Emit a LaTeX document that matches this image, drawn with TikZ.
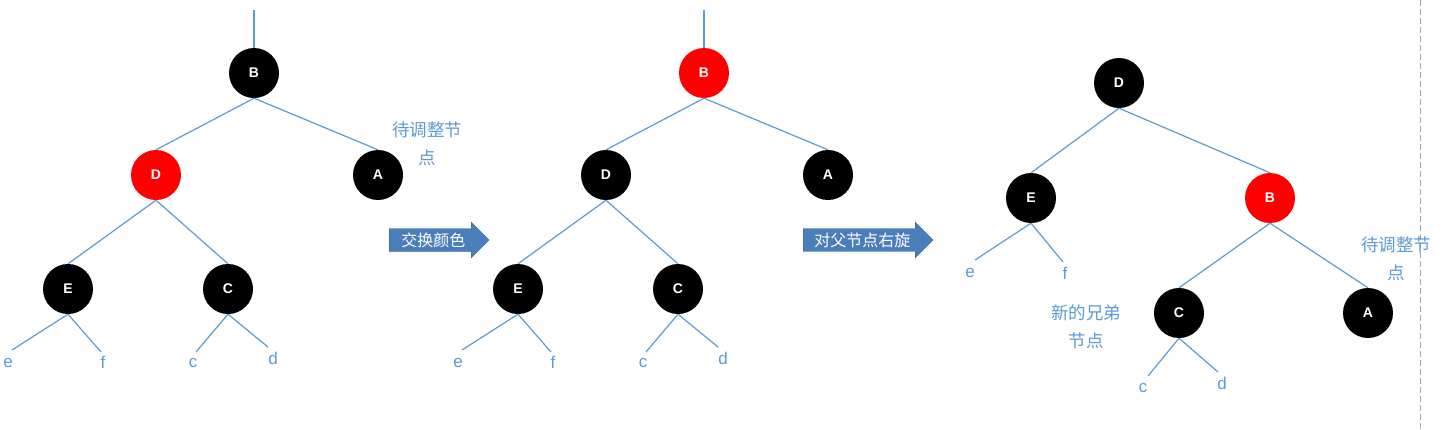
\documentclass[tikz,border=0pt]{standalone}
\usepackage{fontspec}
\setmainfont{Liberation Sans}
\newfontfamily\cjk{Noto Sans CJK SC}
\usetikzlibrary{shapes.arrows}
\definecolor{lineblue}{HTML}{5B9BD5}
\definecolor{arrowblue}{HTML}{4A7EBB}
\tikzset{
  rb/.style={circle,minimum size=50pt,inner sep=0pt,font=\bfseries\fontsize{14}{14}\selectfont,text=white},
  blk/.style={rb,fill=black},
  red/.style={rb,fill=red},
  edge/.style={draw=lineblue,line width=1.2pt},
  leaf/.style={text=lineblue,font=\fontsize{17}{17}\selectfont,inner sep=0pt},
  note/.style={text=lineblue,font=\cjk\fontsize{17.5}{28}\selectfont,align=center,inner sep=0pt},
  bigarrow/.style={single arrow,fill=arrowblue,draw=arrowblue!80!black,line width=0.3pt,text=white,font=\cjk\fontsize{16}{16}\selectfont,single arrow head extend=6pt,single arrow tip angle=90,minimum height=#1,inner sep=3pt,minimum width=36pt}
}
\begin{document}
\begin{tikzpicture}[x=1pt,y=-1pt]
\useasboundingbox (0,0) rectangle (1445,429);
\draw[gray!70,dash pattern=on 6pt off 3pt,line width=1pt] (1420,0) -- (1420,429);
% Tree 1
\coordinate (t1) at (254,10);
\node[blk] (B1) at (254,73) {B};
\node[red] (D1) at (156,175) {D};
\node[blk] (A1) at (378,175) {A};
\node[blk] (E1) at (68,289) {E};
\node[blk] (C1) at (228,289) {C};
\coordinate (e1c) at (12,350);
\coordinate (f1c) at (101,352);
\coordinate (c1c) at (196,352);
\coordinate (d1c) at (268,347);
\node[leaf] (e1) at (8,363) {e};
\node[leaf] (f1) at (103,362) {f};
\node[leaf] (c1) at (193,363) {c};
\node[leaf] (d1) at (273,358) {d};
\draw[edge] (t1) -- (B1.north);
\draw[edge] (B1.south) -- (D1.north);
\draw[edge] (B1.south) -- (A1.north);
\draw[edge] (D1.south) -- (E1.north);
\draw[edge] (D1.south) -- (C1.north);
\draw[edge] (E1.south) -- (e1c);
\draw[edge] (E1.south) -- (f1c);
\draw[edge] (C1.south) -- (c1c);
\draw[edge] (C1.south) -- (d1c);
\node[note] (n1) at (427,144) {待调整节\\点};
% Arrow 1
\node[bigarrow=100pt,anchor=west] (ar1) at (389,240) {交换颜色\hspace{12pt}};
% Tree 2
\coordinate (t2) at (704,10);
\node[red] (B2) at (704,73) {B};
\node[blk] (D2) at (606,175) {D};
\node[blk] (A2) at (828,175) {A};
\node[blk] (E2) at (518,289) {E};
\node[blk] (C2) at (678,289) {C};
\coordinate (e2c) at (462,350);
\coordinate (f2c) at (551,352);
\coordinate (c2c) at (646,352);
\coordinate (d2c) at (718,347);
\node[leaf] (e2) at (458,363) {e};
\node[leaf] (f2) at (553,362) {f};
\node[leaf] (c2) at (643,363) {c};
\node[leaf] (d2) at (723,358) {d};
\draw[edge] (t2) -- (B2.north);
\draw[edge] (B2.south) -- (D2.north);
\draw[edge] (B2.south) -- (A2.north);
\draw[edge] (D2.south) -- (E2.north);
\draw[edge] (D2.south) -- (C2.north);
\draw[edge] (E2.south) -- (e2c);
\draw[edge] (E2.south) -- (f2c);
\draw[edge] (C2.south) -- (c2c);
\draw[edge] (C2.south) -- (d2c);
% Arrow 2
\node[bigarrow=130pt,anchor=west] (ar2) at (803,240) {对父节点右旋\hspace{10pt}};
% Tree 3
\node[blk] (D3) at (1119,83) {D};
\node[blk] (E3) at (1031,198) {E};
\node[red] (B3) at (1270,198) {B};
\node[blk] (C3) at (1179,313) {C};
\node[blk] (A3) at (1368,313) {A};
\coordinate (e3c) at (975,260);
\coordinate (f3c) at (1063,262);
\coordinate (c3c) at (1148,376);
\coordinate (d3c) at (1218,372);
\node[leaf] (e3) at (970,273) {e};
\node[leaf] (f3) at (1065,273) {f};
\node[leaf] (c3) at (1143,388) {c};
\node[leaf] (d3) at (1222,383) {d};
\draw[edge] (D3.south) -- (E3.north);
\draw[edge] (D3.south) -- (B3.north);
\draw[edge] (B3.south) -- (C3.north);
\draw[edge] (B3.south) -- (A3.north);
\draw[edge] (E3.south) -- (e3c);
\draw[edge] (E3.south) -- (f3c);
\draw[edge] (C3.south) -- (c3c);
\draw[edge] (C3.south) -- (d3c);
\node[note] (n3) at (1396,259) {待调整节\\点};
\node[note] (n4) at (1086,327) {新的兄弟\\节点};
\end{tikzpicture}
\end{document}
